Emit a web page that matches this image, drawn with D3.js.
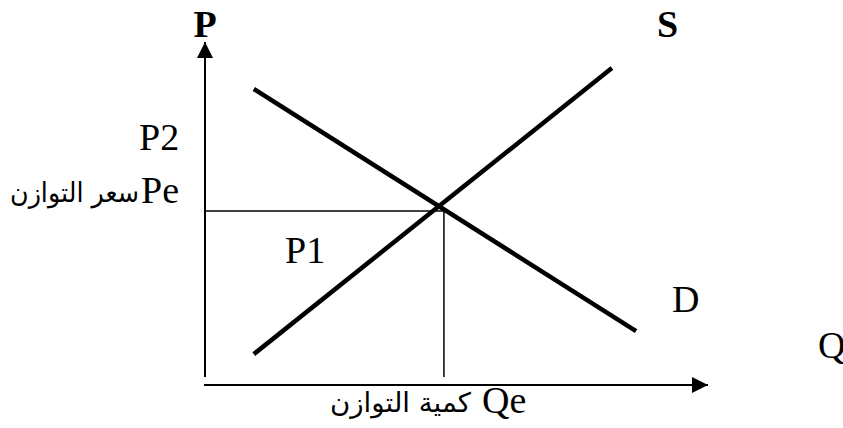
<!DOCTYPE html>
<html>
<head>
<meta charset="utf-8">
<script src="https://cdn.jsdelivr.net/npm/d3@7"></script>
<style>
  body { margin:0; background:#fff; }
  text { font-family: "Liberation Serif", "Times New Roman", "DejaVu Serif", serif; fill:#000; }
  .ar { font-family: "DejaVu Sans", "Liberation Serif", serif; }
</style>
</head>
<body>
<div id="chart"></div>
<script>
// supply / demand sketch, coords in a 0..100 "diagram" space
const supply = [[9.7, 9.0], [80.9, 92.4]];
const demand = [[9.7, 86.3], [85.7, 15.7]];
const eq = { q: 47.5, p: 50.7 };          // where the guide lines sit
const axisX = [[-0.2, 0], [100, 0]];
const axisY = [[0, 2.3], [0, 100]];

const w = 843, h = 428;
const svg = d3.select("#chart").append("svg").attr("width", w).attr("height", h);

const x = d3.scaleLinear().domain([0, 100]).range([205, 708]);
const y = d3.scaleLinear().domain([0, 100]).range([385, 42]);
const line = d3.line().x(d => x(d[0])).y(d => y(d[1]));

// arrow heads for the axes
const defs = svg.append("defs");
defs.append("marker").attr("id", "arr")
  .attr("viewBox", "0 0 16 16").attr("refX", 16).attr("refY", 8)
  .attr("markerWidth", 16).attr("markerHeight", 16)
  .attr("markerUnits", "userSpaceOnUse").attr("orient", "auto")
  .append("path").attr("d", "M0,0 L16,8 L0,16 Z").attr("fill", "#000");

svg.append("path").attr("d", line(axisY)).attr("stroke", "#000").attr("stroke-width", 2)
  .attr("fill", "none").attr("marker-end", "url(#arr)");
svg.append("path").attr("d", line(axisX)).attr("stroke", "#000").attr("stroke-width", 2)
  .attr("fill", "none").attr("marker-end", "url(#arr)");

// thin guide lines to Pe and Qe
svg.append("path").attr("d", line([[0, eq.p], [eq.q, eq.p]]))
  .attr("stroke", "#000").attr("stroke-width", 1.5).attr("fill", "none");
svg.append("path").attr("d", line([[eq.q, eq.p], [eq.q, 2.3]]))
  .attr("stroke", "#000").attr("stroke-width", 1.5).attr("fill", "none");

// the two curves (straight here)
[supply, demand].forEach(s => {
  svg.append("path").attr("d", line(s)).attr("stroke", "#000")
    .attr("stroke-width", 4.5).attr("fill", "none");
});

const fs = 38;
function lab(tx, ty, str, opts) {
  const t = svg.append("text").attr("x", tx).attr("y", ty).attr("font-size", fs).text(str);
  if (opts && opts.bold) t.attr("font-weight", "bold");
  if (opts && opts.anchor) t.attr("text-anchor", opts.anchor);
  if (opts && opts.cls) t.attr("class", opts.cls);
  return t;
}

lab(205, 37, "P", { bold: true, anchor: "middle" });
lab(657, 37, "S", { bold: true });
lab(139, 150, "P2");
lab(141, 203, "Pe");
// arabic labels squeezed to the width they take in the original
lab(10, 202, "سعر التوازن", { cls: "ar" }).attr("font-size", 27)
  .attr("textLength", 129).attr("lengthAdjust", "spacingAndGlyphs");
lab(285, 263, "P1");
lab(672, 312, "D");
lab(818, 358, "Q");
lab(482, 413, "Qe");
lab(330, 412, "كمية التوازن", { cls: "ar" }).attr("font-size", 27)
  .attr("textLength", 141).attr("lengthAdjust", "spacingAndGlyphs");
</script>
</body>
</html>
